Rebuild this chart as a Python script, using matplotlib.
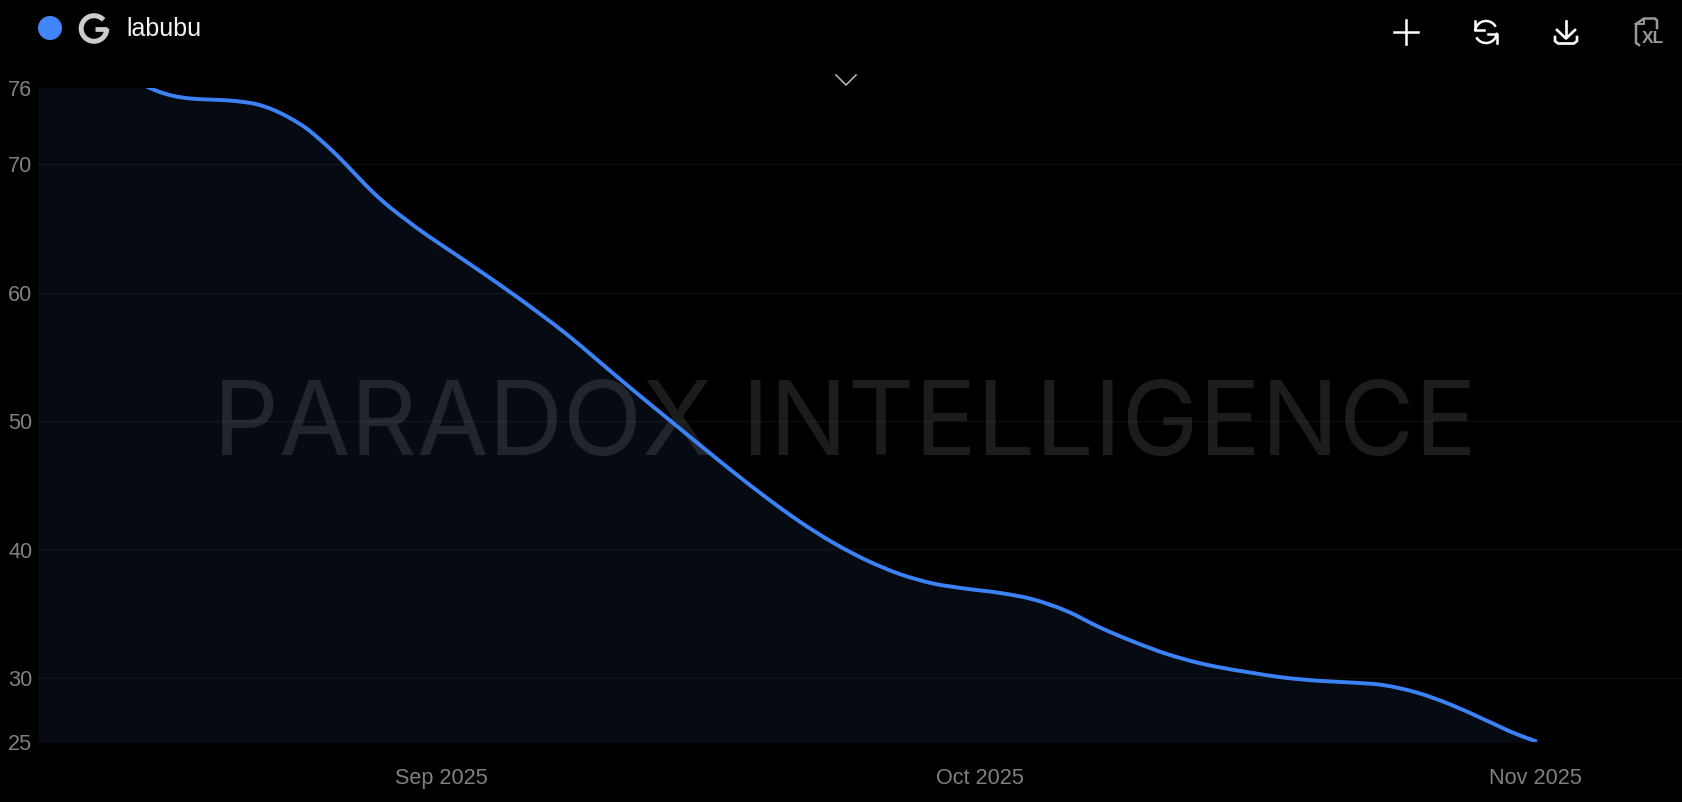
import datetime as dt
import numpy as np
import matplotlib
matplotlib.use('Agg')
import matplotlib.pyplot as plt
import matplotlib.dates as mdates
import matplotlib.patches as patches
from matplotlib.path import Path

# days counted from 1 Sep 2025
day_offsets = [-22.5, -19.0, -17.0, -16.29, -15.73, -15.0, -14.05, -13.11, -12.21, -11.27,
               -10.32, -9.43, -8.48, -7.53, -6.64, -5.69, -4.74, -3.85, -2.90, -1.95,
               -1.06, -0.11, 0.84, 1.73, 2.68, 3.63, 4.52, 5.47, 6.97, 8.81,
               10.65, 12.55, 14.39, 16.23, 18.13, 19.97, 21.81, 23.70, 25.54, 27.38,
               29.28, 31.12, 32.96, 34.86, 36.70, 38.54, 40.44, 42.28, 43.22, 45.06,
               46.90, 48.80, 50.64, 52.48, 54.38, 56.22, 58.06, 59.96, 61.07]
interest = [87.0, 79.5, 76.5, 75.98, 75.66, 75.36, 75.15, 75.07, 75.02, 74.91,
            74.70, 74.29, 73.64, 72.81, 71.77, 70.52, 69.14, 67.87, 66.69, 65.66,
            64.74, 63.83, 62.94, 62.09, 61.18, 60.25, 59.36, 58.38, 56.78, 54.62,
            52.45, 50.27, 48.16, 46.08, 44.02, 42.17, 40.55, 39.16, 38.09, 37.36,
            36.94, 36.62, 36.12, 35.20, 33.93, 32.84, 31.86, 31.14, 30.86, 30.42,
            30.03, 29.78, 29.64, 29.44, 28.85, 27.94, 26.80, 25.60, 25.03]
y_ticks = [25, 30, 40, 50, 60, 70, 76]
x_tick_dates = [dt.datetime(2025, 9, 1), dt.datetime(2025, 10, 1), dt.datetime(2025, 11, 1)]
x_tick_labels = ['Sep 2025', 'Oct 2025', 'Nov 2025']

W, H = 1682, 802
sans = ['Liberation Sans', 'DejaVu Sans']
start = dt.datetime(2025, 9, 1)
dates = [start + dt.timedelta(days=d) for d in day_offsets]


# the chart's own line is a curve through its points, so draw it as bezier segments
def smooth_path(xs, ys):
    xs = np.asarray(xs, dtype=float)
    ys = np.asarray(ys, dtype=float)
    m = np.gradient(ys, xs)
    verts = [(xs[0], ys[0])]
    codes = [Path.MOVETO]
    for i in range(len(xs) - 1):
        h = xs[i + 1] - xs[i]
        verts += [(xs[i] + h / 3, ys[i] + m[i] * h / 3),
                  (xs[i + 1] - h / 3, ys[i + 1] - m[i + 1] * h / 3),
                  (xs[i + 1], ys[i + 1])]
        codes += [Path.CURVE4] * 3
    return Path(verts, codes)


fig = plt.figure(figsize=(W / 100, H / 100), dpi=100, facecolor='black')
ax = fig.add_axes([38 / W, (H - 742) / H, (W - 38) / W, 654.5 / H], facecolor='black')

# fill, watermark, grid, line, back to front
ax.fill_between(dates, 25, interest, color='#060a13', lw=0, zorder=1)
ax.text(845 / W, (H - 417) / H, 'PARADOX INTELLIGENCE', transform=fig.transFigure,
        family='Inter', fontsize=74.5, color='white', alpha=0.115,
        ha='center', va='center_baseline', zorder=2)
for v in y_ticks:
    ax.axhline(v, color='white', alpha=0.05, lw=1, zorder=3)
ax.add_patch(patches.PathPatch(smooth_path(mdates.date2num(dates), interest), facecolor='none',
                               edgecolor='#3b82f6', lw=2.8, capstyle='butt', zorder=4))

ax.set_xlim(start + dt.timedelta(days=-22.5), start + dt.timedelta(days=69.16))
ax.set_ylim(25, 76)
for s in ax.spines.values():
    s.set_visible(False)
ax.set_xticks([mdates.date2num(d) for d in x_tick_dates])
ax.set_xticklabels(x_tick_labels, family=sans, fontsize=15.6, color='#808080')
ax.set_yticks(y_ticks)
ax.set_yticklabels([str(v) for v in y_ticks], family=sans, fontsize=15.6, color='#808080')
ax.tick_params(axis='x', length=0, pad=19)
ax.tick_params(axis='y', length=0, pad=4)

# header and icons, in picture pixels
top = fig.add_axes([0, 0, 1, 1], facecolor='none')
top.set_xlim(0, W)
top.set_ylim(H, 0)
top.axis('off')

top.add_patch(patches.Ellipse((50, 28), 24, 24, facecolor='#4285f8', edgecolor='none'))
top.text(126.5, 29, 'labubu', family=sans, fontsize=18, color='#f2f2f2', va='center', ha='left')

# G logo
t = np.radians(np.linspace(42, 360, 80))
top.plot(94 + 12.8 * np.cos(t), 28.5 - 12.8 * np.sin(t), color='#cccccc', lw=3.6, solid_capstyle='butt')
top.plot([95, 107.5], [28.5, 28.5], color='#cccccc', lw=3.4, solid_capstyle='butt')

# plus
top.plot([1394, 1418], [32, 32], color='white', lw=1.8)
top.plot([1406, 1406], [20, 44], color='white', lw=1.8)

# refresh
t = np.radians(np.linspace(35, 170, 40))
top.plot(1486 + 11 * np.cos(t), 32 - 11 * np.sin(t), color='white', lw=1.8)
t = np.radians(np.linspace(215, 350, 40))
top.plot(1486 + 11 * np.cos(t), 32 - 11 * np.sin(t), color='white', lw=1.8)
top.plot([1475, 1475, 1484], [21, 30, 30], color='white', lw=1.8)
top.plot([1497, 1497, 1488], [43, 34, 34], color='white', lw=1.8)

# download
top.plot([1566, 1566], [21, 37], color='white', lw=1.9)
top.plot([1557, 1566, 1575], [30, 38.5, 30], color='white', lw=1.9)
top.plot([1555, 1555, 1558, 1574, 1577, 1577], [37, 41, 43.5, 43.5, 41, 37], color='white', lw=1.9)

# xl file
grey = '#999999'
top.plot([1636, 1636, 1639], [24, 43, 45], color=grey, lw=1.8)
top.plot([1636, 1644, 1655, 1657, 1657], [24, 18.5, 18.5, 20.5, 28], color=grey, lw=1.8)
top.plot([1636, 1644, 1644], [24, 24, 18.5], color=grey, lw=1.4)
top.text(1653, 38.5, 'XL', family=sans, fontsize=12.5, weight='bold', color=grey, ha='center', va='center')

# collapse chevron
top.plot([836, 846, 856], [75, 85, 75], color='#b0b0b0', lw=1.2)

fig.savefig('out.png', dpi=100, facecolor='black')
